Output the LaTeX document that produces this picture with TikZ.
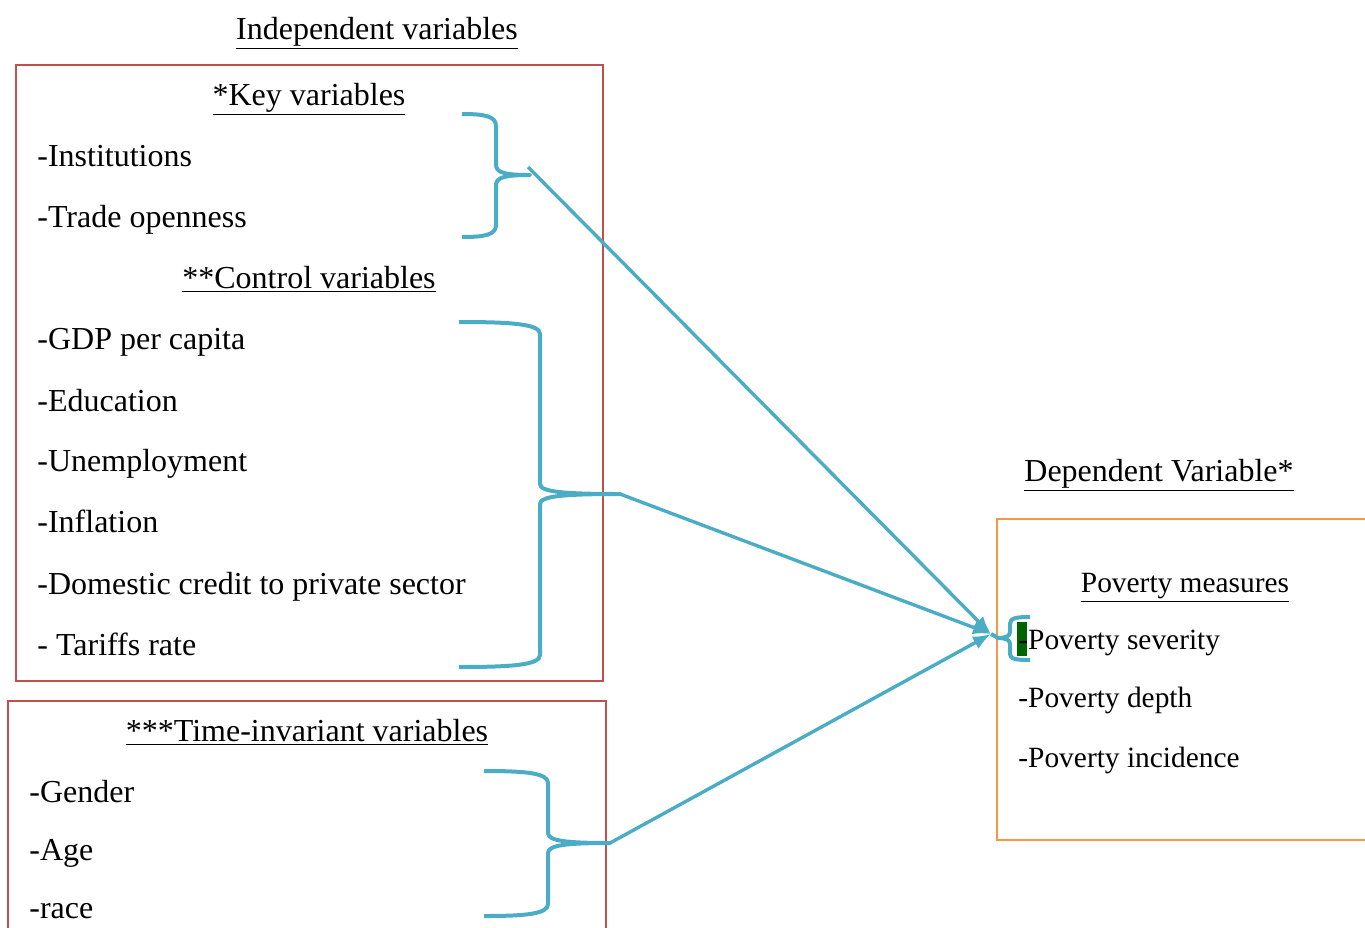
\documentclass[tikz,border=0pt]{standalone}
\usepackage{fontspec}
\setmainfont{Liberation Serif}
\usetikzlibrary{arrows.meta}

\definecolor{boxred}{HTML}{C0504D}
\definecolor{boxorange}{HTML}{F79646}
\definecolor{bracecol}{HTML}{4BACC6}
\definecolor{hlgreen}{HTML}{006400}

% right brace: xl, xv, xtip, ytop, ymid, ybot
\newcommand{\drawrbrace}[6]{%
  \draw[brc] (#1,#4) .. controls ({#2-0.35*(#2-#1)},#4) and (#2,{#4+2}) .. (#2,{#4+12})
     -- (#2,{#5-10}) .. controls (#2,{#5-2}) and ({#2+0.3*(#3-#2)},#5) .. (#3,#5)
     .. controls ({#2+0.3*(#3-#2)},#5) and (#2,{#5+2}) .. (#2,{#5+10})
     -- (#2,{#6-12}) .. controls (#2,{#6-2}) and ({#2-0.35*(#2-#1)},#6) .. (#1,#6);}

\begin{document}
\begin{tikzpicture}[x=0.5pt,y=-0.5pt,
    every node/.style={font=\fontsize{16}{19}\selectfont, inner sep=0pt},
    item/.style={anchor=base west},
    head/.style={anchor=base},
    small/.style={font=\fontsize{14.7}{17}\selectfont},
    redbox/.style={draw=boxred, line width=1.2pt},
    orangebox/.style={draw=boxorange, line width=1.2pt},
    brc/.style={draw=bracecol, line width=2pt, line join=round},
    arr/.style={draw=bracecol, line width=1.7pt, -{Latex[length=9pt,width=7pt]}}]
    \useasboundingbox (0,0) rectangle (1365,927);
    \clip (0,0) rectangle (1365,927);

    \draw[redbox] (16,65) rectangle (603,681);
    \draw[redbox] (8,701) rectangle (606,940);
    \draw[orangebox] (997,519) rectangle (1375,840);

    \node[head] (indep)  at (377,39)  {\underline{Independent variables}};
    \node[head] (keyhd)  at (309,105) {\underline{*Key variables}};
    \node[item] (inst)   at (37,166)  {-Institutions};
    \node[item] (trade)  at (37,227)  {-Trade openness};
    \node[head] (ctrlhd) at (309,288) {\underline{**Control variables}};
    \node[item] (gdp)    at (37,349)  {-GDP per capita};
    \node[item] (educ)   at (37,411)  {-Education};
    \node[item] (unemp)  at (37,471)  {-Unemployment};
    \node[item] (infl)   at (37,532)  {-Inflation};
    \node[item] (credit) at (37,594)  {-Domestic credit to private sector};
    \node[item] (tariff) at (37,655)  {- Tariffs rate};

    \node[head] (timehd) at (307,741) {\underline{***Time-invariant variables}};
    \node[item] (gender) at (29,802)  {-Gender};
    \node[item] (age)    at (29,860)  {-Age};
    \node[item] (race)   at (29,918)  {-race};

    \node[head] (dephd)  at (1159,481) {\underline{Dependent Variable*}};
    \node[head,small] (povhd) at (1185,592) {\underline{Poverty measures}};
    \fill[hlgreen] (1017,622) rectangle (1027,656);
    \node[item,small] (sev)   at (1018,649) {-Poverty severity};
    \node[item,small] (depth) at (1018,707) {-Poverty depth};
    \node[item,small] (incid) at (1018,767) {-Poverty incidence};

    \drawrbrace{462}{496}{530}{114}{175}{237}
    \drawrbrace{459}{540}{620}{322}{494}{667}
    \drawrbrace{484}{548}{610}{771}{843}{916}
    \draw[brc] (1030,617) .. controls (1016,617) and (1010,618) .. (1010,624)
       -- (1010,632) .. controls (1010,636) and (1006,638) .. (998,638)
       .. controls (1006,638) and (1010,640) .. (1010,644)
       -- (1010,654) .. controls (1010,659) and (1016,660) .. (1030,660);

    \coordinate (keytip)  at (528,167);
    \coordinate (ctrltip) at (620,494);
    \coordinate (timetip) at (610,843);
    \coordinate (sevin)   at (991,634);
    \coordinate (sevtip)  at (998,638);

    \draw[arr] (keytip) -- (sevin);
    \draw[arr] (ctrltip) -- (sevin);
    \draw[arr] (timetip) -- (sevin);
    \draw[brc] (sevin) -- (sevtip);
\end{tikzpicture}
\end{document}
